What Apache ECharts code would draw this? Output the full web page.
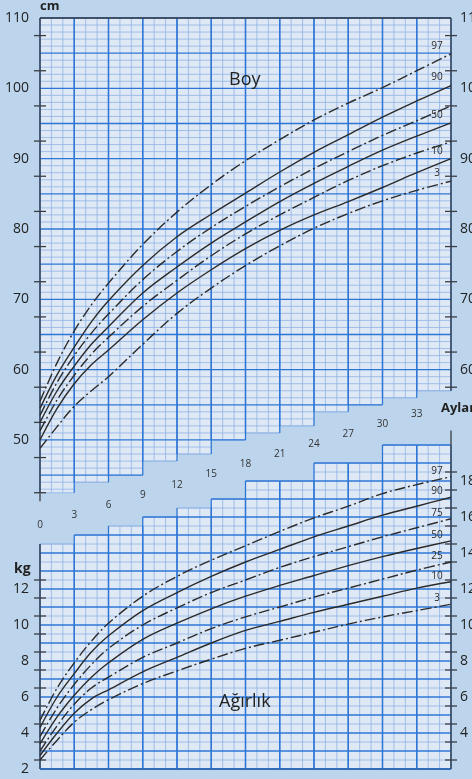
<!DOCTYPE html>
<html>
<head>
<meta charset="utf-8">
<script src="https://cdn.jsdelivr.net/npm/echarts@6/dist/echarts.min.js"></script>
<style>
  html, body { margin: 0; padding: 0; background: #bcd5ec; }
  #chart { width: 472px; height: 779px; }
</style>
</head>
<body>
<div id="chart"></div>
<script>
// ---- data -------------------------------------------------------------
const months = [0, 1.5, 3, 4.5, 6, 9, 12, 15, 18, 21, 24, 27, 30, 33, 36];
const percentiles = ['97', '90', '75', '50', '25', '10', '3'];

// Boy (cm)
const boyP97 = [55.5, 61.0, 65.5, 69.2, 72.3, 77.8, 82.4, 86.3, 89.7, 92.7, 95.5, 97.9, 100.1, 102.5, 104.9];
const boyP90 = [54.5, 59.3, 63.2, 66.8, 69.8, 74.8, 78.9, 82.1, 85.1, 88.1, 90.9, 93.4, 95.9, 98.2, 100.4];
const boyP75 = [53.5, 58.2, 62.0, 65.2, 67.9, 72.8, 76.8, 80.2, 83.2, 86.0, 88.6, 91.0, 93.3, 95.4, 97.5];
const boyP50 = [52.5, 57.0, 60.5, 63.6, 66.1, 70.9, 74.6, 78.0, 81.0, 83.9, 86.5, 88.9, 91.2, 93.2, 95.1];
const boyP25 = [51.3, 55.7, 59.2, 62.2, 64.6, 69.0, 72.7, 76.2, 79.3, 82.0, 84.5, 86.9, 89.0, 90.8, 92.4];
const boyP10 = [50.0, 54.5, 58.0, 60.7, 62.8, 67.1, 70.9, 74.2, 77.2, 79.8, 82.0, 83.9, 85.9, 88.0, 90.0];
const boyP3  = [48.8, 51.9, 54.8, 57.0, 59.0, 63.6, 68.0, 71.6, 74.8, 77.6, 80.1, 82.2, 84.0, 85.5, 86.8];

// Ağırlık (kg)
const kgP97 = [4.7, 6.5, 7.9, 9.1, 10.1, 11.6, 12.7, 13.6, 14.4, 15.2, 15.95, 16.6, 17.3, 17.8, 18.24];
const kgP90 = [4.3, 6.0, 7.3, 8.5, 9.4, 10.8, 11.8, 12.7, 13.5, 14.2, 14.9, 15.5, 16.1, 16.6, 17.1];
const kgP75 = [3.8, 5.4, 6.7, 7.8, 8.7, 10.0, 10.95, 11.8, 12.5, 13.2, 13.8, 14.35, 14.9, 15.4, 15.9];
const kgP50 = [3.4, 4.9, 6.1, 7.1, 7.9, 9.2, 10.1, 10.9, 11.6, 12.2, 12.75, 13.3, 13.8, 14.25, 14.67];
const kgP25 = [3.0, 4.4, 5.6, 6.5, 7.1, 8.2, 9.0, 9.8, 10.45, 11.0, 11.55, 12.05, 12.55, 13.05, 13.5];
const kgP10 = [2.75, 4.0, 5.1, 5.9, 6.4, 7.4, 8.2, 9.0, 9.7, 10.2, 10.7, 11.15, 11.6, 12.05, 12.4];
const kgP3  = [2.5, 3.6, 4.6, 5.3, 5.85, 6.75, 7.45, 8.1, 8.7, 9.15, 9.6, 10.05, 10.45, 10.8, 11.15];

// month labels printed in the band between the two charts
const monthTicks = [0, 3, 6, 9, 12, 15, 18, 21, 24, 27, 30, 33];
const cmLabelsLeft = [50, 60, 70, 80, 90, 100, 110];
const cmLabelsRight = [60, 70, 80, 90, 100, 110];
const kgLabelsLeft = [2, 4, 6, 8, 10, 12];
const kgLabelsRight = [4, 6, 8, 10, 12, 14, 16, 18];

// ---- layout -----------------------------------------------------------
const BG = '#bcd5ec';
const PAPER = '#dfe9f5';
const MAJOR = '#2e76d6';
const MINOR = '#8fb3e4';
const FRAME = '#3a3d44';
const INK = '#2b2b2b';
const FONT = '"Liberation Sans Narrow", "Open Sans", sans-serif';

// lower edge of the height paper and upper edge of the weight paper,
// one step per 3-month column
const boyPaperEdge = [42.5, 44, 45, 47, 48, 50, 51, 52, 54, 55, 56, 57];
const kgPaperEdge = [14.5, 15, 15.5, 16, 16.5, 17, 18, 18, 19, 19, 20, 20];

const boySeries = [boyP97, boyP90, boyP75, boyP50, boyP25, boyP10, boyP3];
const kgSeries = [kgP97, kgP90, kgP75, kgP50, kgP25, kgP10, kgP3];
const boyLabelled = { '97': 1, '90': 1, '50': 1, '10': 1, '3': 1 };
const DASHDOT = [11, 3, 2, 3];

function seg(x1, y1, x2, y2, color, width, z2) {
  return { type: 'line', shape: { x1, y1, x2, y2 }, style: { stroke: color, lineWidth: width }, z2 };
}

// one column of graph paper; upper=true means paper above the edge
function paperRenderer(edges, lo, hi, minorStep, majorStep, upper) {
  return function (params, api) {
    const k = params.dataIndex;
    const m0 = k * 3, m1 = m0 + 3;
    const a = upper ? edges[k] : lo;
    const b = upper ? hi : edges[k];
    const pTL = api.coord([m0, b]);
    const pBR = api.coord([m1, a]);
    const kids = [{
      type: 'rect',
      shape: { x: pTL[0], y: pTL[1], width: pBR[0] - pTL[0], height: pBR[1] - pTL[1] },
      style: { fill: PAPER }, z2: 0
    }];
    const n0 = Math.ceil(a / minorStep - 1e-6), n1 = Math.floor(b / minorStep + 1e-6);
    for (let n = n0; n <= n1; n++) {
      const v = n * minorStep;
      const y = api.coord([m0, v])[1];
      const r = v / majorStep;
      const major = Math.abs(r - Math.round(r)) < 1e-6;
      kids.push(seg(pTL[0], y, pBR[0], y, major ? MAJOR : MINOR, major ? 1.3 : 0.8, major ? 3 : 2));
    }
    // cut edge
    const ye = api.coord([m0, edges[k]])[1];
    kids.push(seg(pTL[0], ye, pBR[0], ye, MINOR, 0.8, 2));
    for (let m = m0; m <= m1; m++) {
      const x = api.coord([m, a])[0];
      const major = m % 3 === 0;
      kids.push(seg(x, pTL[1], x, pBR[1], major ? MAJOR : MINOR, major ? 1.3 : 0.8, major ? 3 : 2));
    }
    return { type: 'group', children: kids };
  };
}

// axis lines and the short crossing ticks
function frameRenderer(spec) {
  return function (params, api) {
    const kids = [];
    const xl = api.coord([0, spec.lo])[0], xr = api.coord([36, spec.lo])[0];
    const yl0 = api.coord([0, spec.leftFrom])[1], yl1 = api.coord([0, spec.leftTo])[1];
    const yr0 = api.coord([36, spec.rightFrom])[1], yr1 = api.coord([36, spec.rightTo])[1];
    kids.push(seg(xl, yl0, xl, yl1, FRAME, 1.3, 5));
    kids.push(seg(xr, yr0, xr, yr1, FRAME, 1.3, 5));
    if (spec.border != null) {
      const yb = api.coord([0, spec.border])[1];
      kids.push(seg(xl, yb, xr, yb, spec.borderColor, 1.4, 5));
    }
    for (const v of spec.leftTicks) {
      const y = api.coord([0, v])[1];
      kids.push(seg(xl - 6, y, xl + 6, y, FRAME, 1.3, 5));
    }
    for (const v of spec.rightTicks) {
      const y = api.coord([36, v])[1];
      kids.push(seg(xr - 6, y, xr + 6, y, FRAME, 1.3, 5));
    }
    return { type: 'group', children: kids };
  };
}

function range(a, b, s) { const r = []; for (let v = a; v <= b + 1e-9; v += s) r.push(+v.toFixed(3)); return r; }

const series = [];

series.push({
  type: 'custom', xAxisIndex: 0, yAxisIndex: 0, silent: true, clip: false, z: 1,
  renderItem: paperRenderer(boyPaperEdge, 40, 110, 1, 5, true),
  data: boyPaperEdge.map((e, i) => [i * 3, e])
});
series.push({
  type: 'custom', xAxisIndex: 1, yAxisIndex: 2, silent: true, clip: false, z: 1,
  renderItem: paperRenderer(kgPaperEdge, 2, 21, 0.5, 1, false),
  data: kgPaperEdge.map((e, i) => [i * 3, e])
});
series.push({
  type: 'custom', xAxisIndex: 0, yAxisIndex: 0, silent: true, clip: false, z: 2,
  renderItem: frameRenderer({
    lo: 40, leftFrom: 110, leftTo: 41.3, rightFrom: 110, rightTo: 57,
    border: 110, borderColor: FRAME,
    leftTicks: range(42.5, 107.5, 5), rightTicks: range(57.5, 107.5, 5)
  }),
  data: [[0, 110]]
});
series.push({
  type: 'custom', xAxisIndex: 1, yAxisIndex: 2, silent: true, clip: false, z: 2,
  renderItem: frameRenderer({
    lo: 2, leftFrom: 2, leftTo: 14.5, rightFrom: 2, rightTo: 20.8,
    border: 2, borderColor: '#2a5fae',
    leftTicks: range(2.5, 12.5, 1), rightTicks: range(2.5, 18.5, 1)
  }),
  data: [[0, 2]]
});

// month numbers along the diagonal band
series.push({
  type: 'custom', xAxisIndex: 1, yAxisIndex: 2, silent: true, clip: false, z: 4,
  renderItem: function (params, api) {
    const m = api.value(0);
    const x = api.coord([m, 2])[0];
    return {
      type: 'text', z2: 10,
      style: { text: String(m), x: x, y: 525 - 3.36 * m, align: 'center', verticalAlign: 'middle',
               font: '10px ' + FONT, fill: '#333' }
    };
  },
  data: monthTicks.map(m => [m])
});

percentiles.forEach((p, i) => {
  const dashed = i % 2 === 0;
  series.push({
    type: 'line', name: 'boy' + p, xAxisIndex: 0, yAxisIndex: 0, z: 5,
    data: months.map((m, j) => [m, boySeries[i][j]]),
    smooth: 0.35, showSymbol: false, silent: true, clip: false,
    lineStyle: { color: INK, width: 1.4, type: dashed ? DASHDOT : 'solid' },
    endLabel: {
      show: !!boyLabelled[p], formatter: p, offset: [-22, -8], align: 'center',
      color: INK, fontSize: 10, fontFamily: FONT
    }
  });
  series.push({
    type: 'line', name: 'kg' + p, xAxisIndex: 1, yAxisIndex: 2, z: 5,
    data: months.map((m, j) => [m, kgSeries[i][j]]),
    smooth: 0.35, showSymbol: false, silent: true, clip: false,
    lineStyle: { color: INK, width: 1.4, type: dashed ? DASHDOT : 'solid' },
    endLabel: {
      show: true, formatter: p, offset: [-22, -6], align: 'center',
      color: INK, fontSize: 10, fontFamily: FONT
    }
  });
});

const labelStyle = { color: '#222', fontSize: 14, fontFamily: FONT };
function only(list) { return v => (list.indexOf(+v) >= 0 ? String(v) : ''); }

const option = {
  animation: false,
  backgroundColor: BG,
  grid: [
    { left: 40, right: 21, top: 18, height: 492.3, containLabel: false, outerBoundsMode: 'none' },
    { left: 40, right: 21, top: 427, height: 342, containLabel: false, outerBoundsMode: 'none' }
  ],
  xAxis: [
    { gridIndex: 0, type: 'value', min: 0, max: 36, show: false },
    { gridIndex: 1, type: 'value', min: 0, max: 36, show: false }
  ],
  yAxis: [
    { gridIndex: 0, type: 'value', min: 40, max: 110, interval: 10, position: 'left',
      axisLine: { show: false }, axisTick: { show: false }, splitLine: { show: false },
      axisLabel: Object.assign({ margin: 11, formatter: only(cmLabelsLeft) }, labelStyle) },
    { gridIndex: 0, type: 'value', min: 40, max: 110, interval: 10, position: 'right',
      axisLine: { show: false }, axisTick: { show: false }, splitLine: { show: false },
      axisLabel: Object.assign({ margin: 9, formatter: only(cmLabelsRight) }, labelStyle) },
    { gridIndex: 1, type: 'value', min: 2, max: 21, interval: 2, position: 'left',
      axisLine: { show: false }, axisTick: { show: false }, splitLine: { show: false },
      axisLabel: Object.assign({ margin: 11, formatter: only(kgLabelsLeft) }, labelStyle) },
    { gridIndex: 1, type: 'value', min: 2, max: 21, interval: 2, position: 'right',
      axisLine: { show: false }, axisTick: { show: false }, splitLine: { show: false },
      axisLabel: Object.assign({ margin: 9, formatter: only(kgLabelsRight) }, labelStyle) }
  ],
  graphic: [
    { type: 'text', left: 40, top: 0, style: { text: 'cm', font: 'bold 13px ' + FONT, fill: '#222' } },
    { type: 'text', left: 14, top: 562, style: { text: 'kg', font: 'bold 14px ' + FONT, fill: '#222' } },
    { type: 'text', left: 441, top: 402, style: { text: 'Aylar', font: 'bold 13px ' + FONT, fill: '#222' } },
    { type: 'text', left: 229, top: 71, style: { text: 'Boy', font: '18px "Open Sans", sans-serif', fill: '#222' }, z: 10 },
    { type: 'text', left: 219, top: 693, style: { text: 'Ağırlık', font: '18px "Open Sans", sans-serif', fill: '#222' }, z: 10 }
  ],
  series: series
};

const chart = echarts.init(document.getElementById('chart'), null, { renderer: 'canvas' });
chart.setOption(option);
</script>
</body>
</html>
